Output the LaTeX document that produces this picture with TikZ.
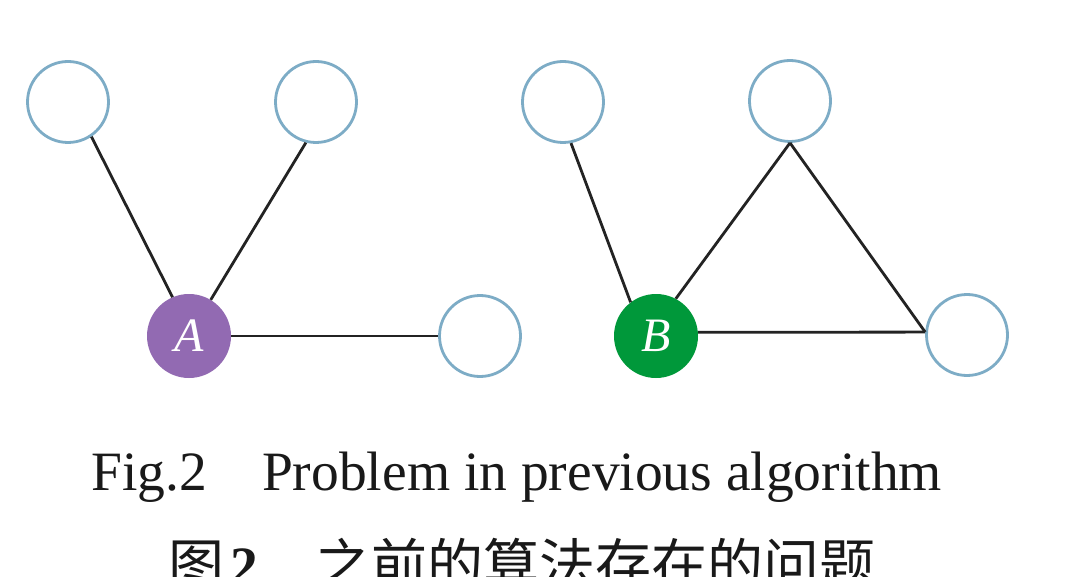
\documentclass[tikz,border=0pt]{standalone}
\usepackage{fontspec}
\setmainfont{Liberation Serif}
\newfontfamily\cjk{Noto Sans CJK SC}
\definecolor{nodeblue}{RGB}{125,172,198}
\definecolor{apurple}{RGB}{146,106,178}
\definecolor{bgreen}{RGB}{0,152,58}
\definecolor{edgecol}{RGB}{35,35,35}
\begin{document}
\begin{tikzpicture}[x=1pt,y=-1pt,
  empty/.style={circle,draw=nodeblue,line width=2.8pt,fill=white,minimum size=81pt,inner sep=0pt},
  hub/.style={circle,minimum size=84pt,inner sep=0pt,text=white,font=\fontsize{48}{48}\selectfont\itshape},
  edge/.style={line width=2.8pt,draw=edgecol},
  caption/.style={anchor=base west,inner sep=0pt,text=black!90}]
\fill[white] (0,0) rectangle (1078,577);
\clip (0,0) rectangle (1078,577);
% left graph
\node[empty] (c1) at (68,102) {};
\node[empty] (c2) at (316,102) {};
\node[hub,fill=apurple] (A) at (189,336) {A};
\node[empty] (c3) at (480,336) {};
% right graph
\node[empty] (c4) at (563,102) {};
\node[empty] (c5) at (790,101) {};
\node[hub,fill=bgreen] (B) at (656,336) {B};
\node[empty] (c6) at (967,335) {};
% edges
\draw[edge] (c1.304) -- (A.113);
\draw[edge] (c2.256) -- (A.59);
\draw[edge] (A) -- (c3);
\draw[edge] (c4.281) -- (B.127);
\draw[edge] (c5.south) -- (B.62);
\draw[edge] (c5.south) -- (c6.176);
\draw[edge] (B.5) -- (c6.176);
% captions
\node[caption,font=\fontsize{55.5}{60}\selectfont] (en) at (91,490) {Fig.2\hspace{55.3pt}Problem in previous algorithm};
\node[caption] (zh) at (168,585) {{\fontsize{56}{60}\cjk 图}\hspace{6pt}{\fontsize{55.5}{60}\selectfont\bfseries 2}\hspace{58pt}{\fontsize{56}{60}\cjk 之前的算法存在的问题}};
\end{tikzpicture}
\end{document}
